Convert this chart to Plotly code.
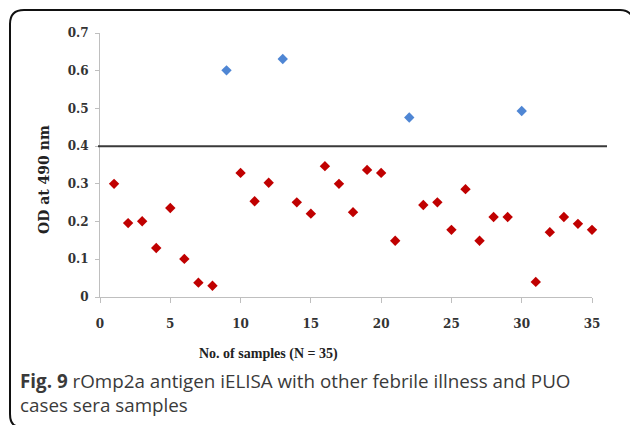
import plotly.graph_objects as go

# ---- data ----
sample_no = list(range(1, 36))
od_values = [0.300, 0.196, 0.201, 0.130, 0.236, 0.101, 0.038, 0.030, 0.601, 0.329,
             0.254, 0.303, 0.631, 0.251, 0.221, 0.347, 0.300, 0.225, 0.337, 0.329,
             0.149, 0.476, 0.244, 0.251, 0.178, 0.286, 0.149, 0.212, 0.212, 0.493,
             0.040, 0.172, 0.212, 0.194, 0.178]
cutoff = 0.4
x_ticks = [0, 5, 10, 15, 20, 25, 30, 35]
y_ticks = [0, 0.1, 0.2, 0.3, 0.4, 0.5, 0.6, 0.7]
y_tick_labels = ["0", "0.1", "0.2", "0.3", "0.4", "0.5", "0.6", "0.7"]
x_title = "No. of samples (N = 35)"
y_title = "OD at 490 nm"
caption1 = "<b>Fig. 9</b> rOmp2a antigen iELISA with other febrile illness and PUO"
caption2 = "cases sera samples"

pos_x = [x for x, v in zip(sample_no, od_values) if v > cutoff]
pos_y = [v for v in od_values if v > cutoff]
neg_x = [x for x, v in zip(sample_no, od_values) if v <= cutoff]
neg_y = [v for v in od_values if v <= cutoff]

W, H = 630, 425
ML, MR, MT, MB = 100, 38, 33, 128
PW, PH = W - ML - MR, H - MT - MB


def px(x):
    return (x - ML) / PW


def py(y):
    return (H - MB - y) / PH


fig = go.Figure()
fig.add_trace(go.Scatter(x=neg_x, y=neg_y, mode="markers", cliponaxis=False,
                         marker=dict(symbol="diamond", size=8, color="#C00000"),
                         showlegend=False))
fig.add_trace(go.Scatter(x=pos_x, y=pos_y, mode="markers", cliponaxis=False,
                         marker=dict(symbol="diamond", size=8, color="#4F86D4"),
                         showlegend=False))

tickfont = dict(family="DejaVu Serif", size=12, color="#333333", weight="bold")
fig.update_xaxes(range=[0, 35], tickvals=x_ticks, ticktext=[str(t) for t in x_ticks],
                 showgrid=False, zeroline=False, showline=True, linecolor="#BFBFBF",
                 linewidth=1, ticks="outside", ticklen=5, tickcolor="#BFBFBF",
                 tickfont=tickfont, ticklabelstandoff=11)
fig.update_yaxes(range=[0, 0.7], tickvals=y_ticks, ticktext=y_tick_labels,
                 showgrid=False, zeroline=False, showline=True, linecolor="#BFBFBF",
                 linewidth=1, ticks="outside", ticklen=4, tickcolor="#BFBFBF",
                 tickfont=tickfont, ticklabelstandoff=4)

shapes = [
    # cutoff line
    dict(type="line", xref="x domain", yref="y domain",
         x0=-2 / PW, x1=(607 - ML) / PW, y0=cutoff / 0.7, y1=cutoff / 0.7,
         line=dict(color="#3A3A3A", width=2)),
    # rounded frame
    dict(type="path", xref="paper", yref="paper",
         path=(f"M {px(632)},{py(16)} Q {px(628)},{py(10)} {px(620)},{py(10)} "
               f"L {px(24)},{py(10)} Q {px(10)},{py(10)} {px(10)},{py(24)} "
               f"L {px(10)},{py(414)} Q {px(10)},{py(424)} {px(16)},{py(426)}"),
         line=dict(color="#111111", width=2)),
]

annotations = [
    dict(text=x_title, xref="paper", yref="paper", x=px(268), y=py(354),
         xanchor="center", yanchor="middle", showarrow=False,
         font=dict(family="Liberation Serif", size=14, color="#222222", weight="bold")),
    dict(text=y_title, xref="paper", yref="paper", x=px(44), y=py(180),
         xanchor="center", yanchor="middle", showarrow=False, textangle=-90,
         font=dict(family="DejaVu Serif", size=14, color="#222222", weight="bold")),
    dict(text=caption1, xref="paper", yref="paper", x=px(18), y=py(381),
         xanchor="left", yanchor="middle", showarrow=False,
         font=dict(family="Open Sans", size=18.8, color="#3A3A3A")),
    dict(text=caption2, xref="paper", yref="paper", x=px(18), y=py(405),
         xanchor="left", yanchor="middle", showarrow=False,
         font=dict(family="Open Sans", size=18.8, color="#3A3A3A")),
]

fig.update_layout(width=W, height=H, margin=dict(l=ML, r=MR, t=MT, b=MB),
                  paper_bgcolor="white", plot_bgcolor="white",
                  shapes=shapes, annotations=annotations, showlegend=False)

fig.write_html("out.html")
